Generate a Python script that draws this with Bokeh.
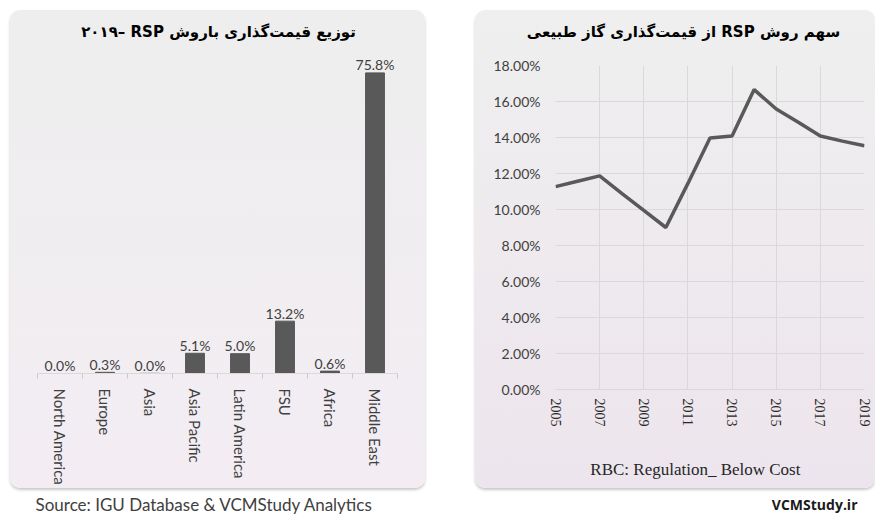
from bokeh.plotting import figure
from bokeh.models import (Range1d, FixedTicker, Label, Spacer,
                          PrintfTickFormatter)
from bokeh.layouts import row, column
from bokeh.embed import file_html
from bokeh.resources import INLINE
from bokeh.core.properties import value

# ---------------- data ----------------
regions = ["North America", "Europe", "Asia", "Asia Pacific",
           "Latin America", "FSU", "Africa", "Middle East"]
shares = [0.0, 0.3, 0.04, 5.1, 5.0, 13.2, 0.6, 75.8]          # % of RSP pricing, 2019
share_labels = ["0.0%", "0.3%", "0.0%", "5.1%", "5.0%", "13.2%", "0.6%", "75.8%"]

years = [2005, 2006, 2007, 2008, 2009, 2010, 2011, 2012,
         2013, 2014, 2015, 2016, 2017, 2018, 2019]
rsp_share = [11.27, 11.57, 11.87, 10.9, 9.95, 9.0, 11.45, 13.97,
             14.08, 16.66, 15.58, 14.85, 14.08, 13.8, 13.54]     # %
year_ticks = [2005, 2007, 2009, 2011, 2013, 2015, 2017, 2019]
pct_ticks = [0, 2, 4, 6, 8, 10, 12, 14, 16, 18]

title_left = "\u202bتوزیع قیمت‌گذاری باروش RSP –\u200f۲۰۱۹\u202c"
title_right = "\u202bسهم روش RSP از قیمت‌گذاری گاز طبیعی\u202c"
source_text = "Source: IGU Database  & VCMStudy Analytics"
note_text = "RBC: Regulation_  Below Cost"
brand_text = "VCMStudy.ir"

TXT = "#404040"
BAR = "#595959"
GRID = "#d9d9d9"


def panel_styles(c_top, c_bot):
    return {"background": f"linear-gradient(to bottom, {c_top}, {c_bot})",
            "border-radius": "10px",
            "box-shadow": "0px 2px 3px rgba(0,0,0,0.22)"}


def text_box(width, height, text, x, y, align, baseline, font, style, size, color,
             free=False):
    c = figure(width=width, height=height, output_backend="svg", toolbar_location=None,
               x_range=Range1d(0, width), y_range=Range1d(0, height),
               min_border=0, x_axis_location=None, y_axis_location=None)
    if free:
        c.frame_align = False
    c.outline_line_color = None
    c.grid.visible = False
    c.background_fill_color = None
    c.border_fill_color = None
    c.add_layout(Label(x=x, y=y, text=text, text_align=align,
                       text_baseline=baseline, text_font=font,
                       text_font_style=style, text_font_size=size,
                       text_color=color))
    return c


# ---------------- left: bar chart ----------------
xs = list(range(len(regions)))
left = figure(width=415, height=443, output_backend="svg", toolbar_location=None,
              x_range=Range1d(-0.5, 7.5), y_range=Range1d(0, 82.2),
              min_border_left=27, min_border_right=28,
              min_border_top=2, min_border_bottom=108,
              y_axis_location=None)
left.outline_line_color = None
left.background_fill_color = None
left.border_fill_color = None
left.grid.visible = False

left.vbar(x=xs, top=shares, width=0.42, color=BAR)
left.text(x=xs, y=shares, text=share_labels, text_align="center",
          text_baseline="alphabetic", y_offset=-8, text_color=TXT,
          text_font=value("Lato"), text_font_size="14px")

ax = left.xaxis[0]
ax.ticker = FixedTicker(ticks=xs, minor_ticks=[i - 0.5 for i in range(len(regions) + 1)])
ax.major_label_overrides = {i: r for i, r in zip(xs, regions)}
ax.major_label_orientation = "vertical"
ax.major_label_text_font = "Lato"
ax.major_label_text_font_size = "15px"
ax.major_label_text_color = TXT
ax.major_label_standoff = 10
ax.major_tick_line_color = None
ax.major_tick_out = 0
ax.major_tick_in = 0
ax.minor_tick_line_color = "#c8c8c8"
ax.minor_tick_out = 5
ax.minor_tick_in = 0
ax.axis_line_color = GRID

left_title = text_box(415, 35, title_left, 208, 14, "center", "middle",
                      "DejaVu Sans", "bold", "15px", "black", free=True)
left_panel = column(left_title, left, styles=panel_styles("#eeeeee", "#f3edf3"))

# ---------------- right: line chart ----------------
right = figure(width=400, height=403, output_backend="svg", toolbar_location=None,
               x_range=Range1d(2005, 2019), y_range=Range1d(0, 18),
               min_border_left=80, min_border_right=11,
               min_border_top=20, min_border_bottom=59)
right.outline_line_color = None
right.background_fill_color = None
right.border_fill_color = None

right.xgrid.ticker = FixedTicker(ticks=year_ticks)
right.ygrid.ticker = FixedTicker(ticks=pct_ticks)
right.grid.grid_line_color = GRID
right.grid.grid_line_width = 1

right.line(years, rsp_share, line_width=3.5, line_color=BAR)

xa = right.xaxis[0]
xa.ticker = FixedTicker(ticks=year_ticks)
xa.major_label_orientation = "vertical"
xa.major_label_text_font = "Liberation Serif"
xa.major_label_text_font_size = "14px"
xa.major_label_text_color = "#262626"
xa.major_label_standoff = 9
xa.major_tick_line_color = None
xa.major_tick_out = 0
xa.major_tick_in = 0
xa.minor_tick_line_color = None
xa.axis_line_color = GRID

ya = right.yaxis[0]
ya.ticker = FixedTicker(ticks=pct_ticks)
ya.formatter = PrintfTickFormatter(format="%.2f%%")
ya.major_label_text_font = "Lato"
ya.major_label_text_font_size = "14px"
ya.major_label_text_color = TXT
ya.major_label_standoff = 15
ya.major_tick_line_color = None
ya.major_tick_out = 0
ya.major_tick_in = 0
ya.minor_tick_line_color = None
ya.axis_line_color = None

right_title = text_box(400, 35, title_right, 208, 14, "center", "middle",
                       "DejaVu Sans", "bold", "15px", "black", free=True)
right_note = text_box(400, 40, note_text, 222, 19, "center", "middle",
                      "Liberation Serif", "normal", "17px", "#262626", free=True)
right_panel = column(right_title, right, right_note,
                     styles=panel_styles("#efefef", "#ede5ed"))

# ---------------- captions under the panels ----------------
src = text_box(440, 26, source_text, 35, 10, "left", "alphabetic",
               "Lato", "normal", "17px", TXT)
brand = text_box(435, 26, brand_text, 417, 10, "right", "alphabetic",
                 "Open Sans", "bold", "14px", "#1a1a1a")

layout = column(
    Spacer(width=875, height=10),
    row(Spacer(width=10, height=478), left_panel, Spacer(width=50, height=478), right_panel),
    row(src, brand),
)
open("out.html", "w").write(file_html(layout, INLINE))
